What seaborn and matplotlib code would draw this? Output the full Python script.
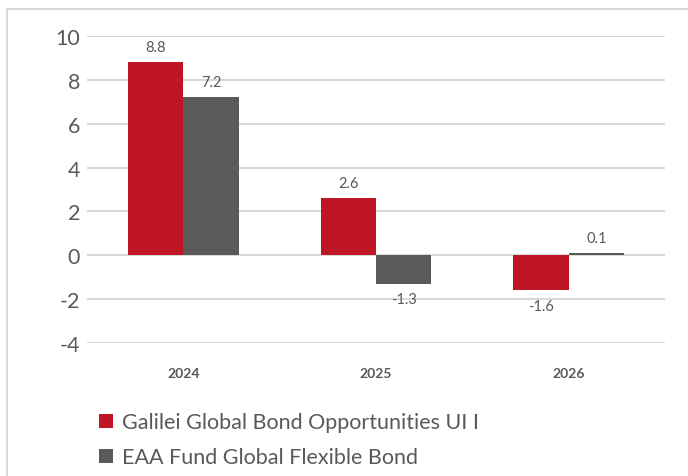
import pandas as pd
import matplotlib.pyplot as plt
import seaborn as sns
from matplotlib.lines import Line2D
from matplotlib.patches import Patch

# Data
years = ["2024", "2025", "2026"]
galilei = [8.8, 2.6, -1.6]
eaa = [7.2, -1.3, 0.1]
series_names = ["Galilei Global Bond Opportunities UI I", "EAA Fund Global Flexible Bond"]
yticks = [-4, -2, 0, 2, 4, 6, 8, 10]

red = "#BE1622"
gray = "#5A5A5A"
text_gray = "#595959"
grid_gray = "#D9D9D9"

df = pd.DataFrame({
    "year": years * 2,
    "value": galilei + eaa,
    "fund": [series_names[0]] * 3 + [series_names[1]] * 3,
})

sns.set_style("white")
plt.rcParams["font.family"] = ["Lato", "DejaVu Sans"]

fig = plt.figure(figsize=(6.88, 4.77), dpi=100)
ax = fig.add_axes([87 / 688, 1 - 344 / 477, 578 / 688, 307 / 477])

sns.barplot(data=df, x="year", y="value", hue="fund", palette=[red, gray],
            width=0.576, gap=0, saturation=1, linewidth=0, ax=ax,
            legend=False, zorder=3)

ax.set_ylim(-4, 10)
ax.set_xlim(-0.5, 2.5)
ax.set_yticks(yticks)
ax.set_yticklabels([str(t) for t in yticks], fontsize=15.5, color=text_gray)
ax.grid(axis="y", color=grid_gray, linewidth=1.5, zorder=0)
ax.grid(axis="x", visible=False)
ax.set_axisbelow(True)
for s in ax.spines.values():
    s.set_visible(False)
ax.tick_params(axis="y", length=0, pad=5)
ax.tick_params(axis="x", length=0, pad=17)
for lbl in ax.get_xticklabels():
    lbl.set_fontweight("bold")
    lbl.set_fontsize(10)
    lbl.set_color(text_gray)
ax.set_xlabel("")
ax.set_ylabel("")

# value labels
for cont in ax.containers:
    for bar in cont:
        h = bar.get_height()
        x = bar.get_x() + bar.get_width() / 2
        off = 11 if h >= 0 else -11
        ax.annotate(f"{h:.1f}", (x, h), xytext=(0, off), textcoords="offset points",
                    ha="center", va="center", fontsize=10.5, color=text_gray)

handles = [Patch(facecolor=red, linewidth=0), Patch(facecolor=gray, linewidth=0)]
fig.legend(handles, series_names, loc="upper left",
           bbox_to_anchor=(80 / 688, 1 - 394 / 477), frameon=False,
           fontsize=15.5, handlelength=0.65, handleheight=0.65,
           handletextpad=0.4, labelspacing=0.7, labelcolor=text_gray)

# outer chart frame
fig.add_artist(Line2D([7 / 688, 1], [1 - 10 / 477, 1 - 10 / 477],
                      transform=fig.transFigure, color=grid_gray, linewidth=1.5))
fig.add_artist(Line2D([7 / 688, 7 / 688], [0, 1 - 10 / 477],
                      transform=fig.transFigure, color=grid_gray, linewidth=1.5))

fig.savefig("out.png", dpi=100)
